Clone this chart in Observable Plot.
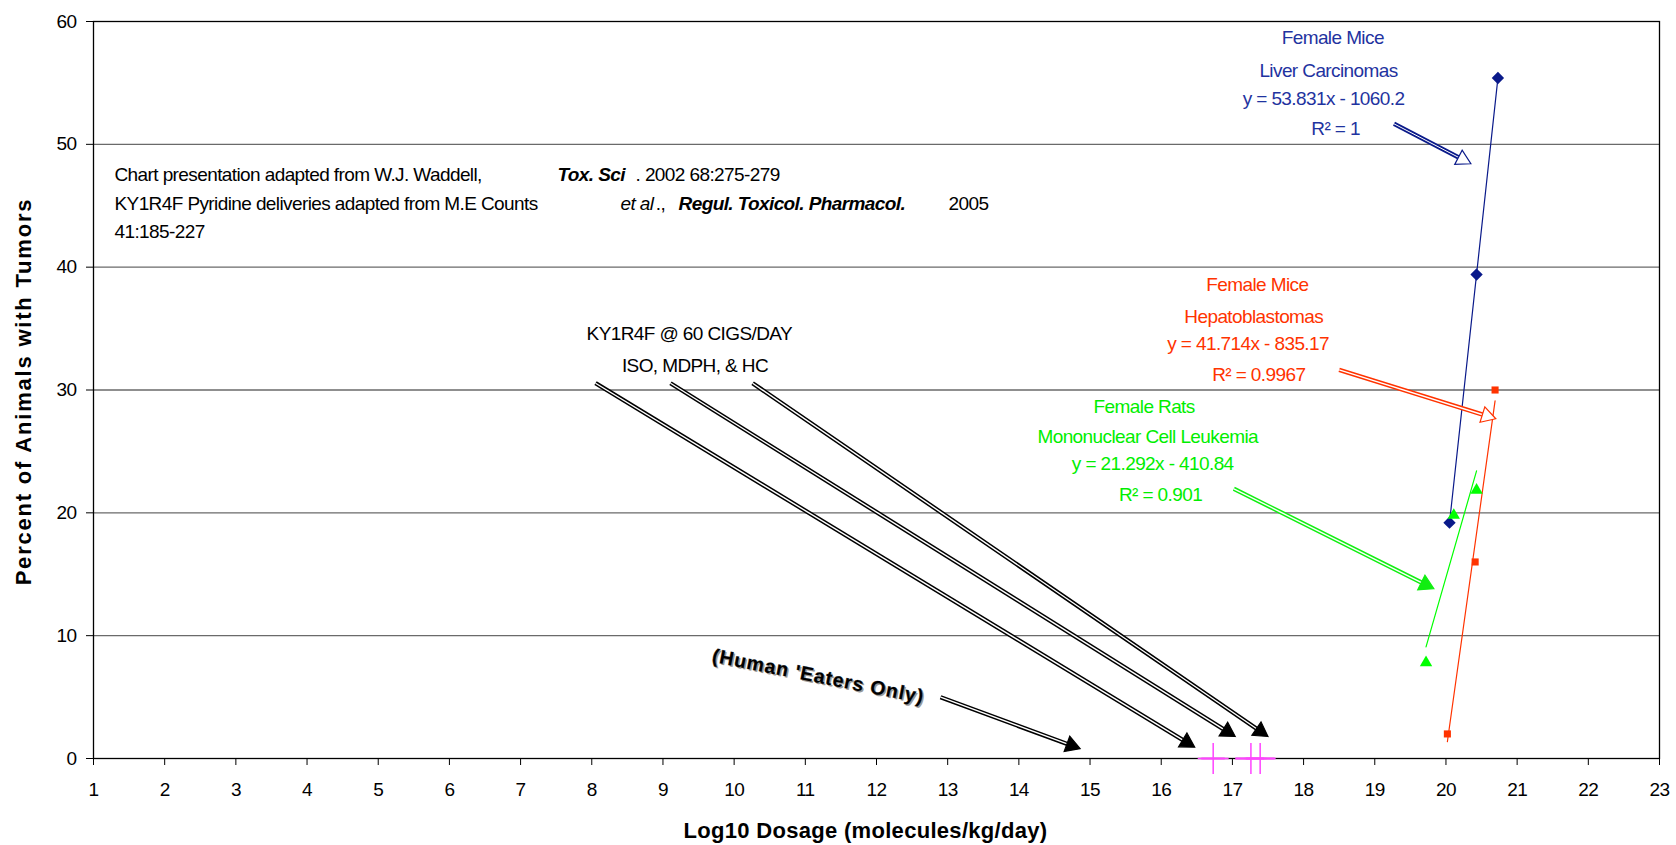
<!DOCTYPE html>
<html><head><meta charset="utf-8">
<script src="https://cdn.jsdelivr.net/npm/d3@7"></script>
<script src="https://cdn.jsdelivr.net/npm/@observablehq/plot@0.6"></script>
<style>
body{margin:0;background:#fff}
#chart svg text{letter-spacing:-0.6px}
</style></head><body><div id="chart"></div>
<script>
// ---- axis ticks ----
const xTicks = [1,2,3,4,5,6,7,8,9,10,11,12,13,14,15,16,17,18,19,20,21,22,23];
const yTicks = [0,10,20,30,40,50,60];

// ---- series (Log10 dosage, percent with tumors) ----
const liverX = [20.05, 20.43, 20.73];   // Female Mice Liver Carcinomas
const liverY = [19.2, 39.4, 55.4];
const hepX   = [20.02, 20.41, 20.69];   // Female Mice Hepatoblastomas
const hepY   = [2.0, 16.0, 30.0];
const leukX  = [19.72, 20.11, 20.43];   // Female Rats Mononuclear Cell Leukemia
const leukY  = [7.8, 19.8, 21.85];
const humanX  = [16.73, 17.26, 17.39];  // KY1R4F smokers (human)
const humanLo = [16.57, 17.05, 17.20];
const humanHi = [16.90, 17.45, 17.60];

// ---- annotation texts (positions in data units) ----
const blueLabels  = ["Female Mice", "Liver Carcinomas", "y = 53.831x - 1060.2", "R² = 1"];
const blueLabX    = [18.41, 18.35, 18.28, 18.45];
const blueLabY    = [58.64, 56.01, 53.71, 51.27];
const redLabels   = ["Female Mice", "Hepatoblastomas", "y = 41.714x - 835.17", "R² = 0.9967"];
const redLabX     = [17.35, 17.30, 17.22, 17.37];
const redLabY     = [38.57, 35.98, 33.76, 31.26];
const greenLabels = ["Female Rats", "Mononuclear Cell Leukemia", "y = 21.292x - 410.84", "R² = 0.901"];
const greenLabX   = [15.76, 15.81, 15.88, 15.99];
const greenLabY   = [28.64, 26.20, 24.02, 21.45];
const kyLabels    = ["KY1R4F @ 60 CIGS/DAY", "ISO, MDPH, & HC"];
const kyLabX      = [9.37, 9.45];
const kyLabY      = [34.58, 32.0];
const humanLabel  = "(Human 'Eaters Only)";
const humanLabX   = 11.18, humanLabY = 6.68;

const citeText  = ["Chart presentation adapted from W.J. Waddell,", "Tox. Sci", ". 2002 68:275-279",
                   "KY1R4F Pyridine deliveries adapted from M.E Counts", "et al", ".,", "Regul. Toxicol. Pharmacol.", "2005",
                   "41:185-227"];
const citeX     = [1.295, 7.519, 8.615, 1.295, 8.404, 8.90, 9.219, 13.012, 1.295];
const citeY     = [47.55, 47.55, 47.55, 45.18, 45.18, 45.18, 45.18, 45.18, 42.9];
const citeStyle = ["n", "bi", "n", "n", "i", "n", "bi", "n", "n"];

// ---- arrows [x1, y1, x2, y2] (tail -> tip) ----
const blackArrows = [[12.90, 4.99, 14.86, 0.80], [8.053, 30.55, 16.47, 0.92], [9.106, 30.55, 17.04, 1.79], [10.26, 30.55, 17.50, 1.79]];
const blueArrow  = [[19.27, 51.67, 20.35, 48.42]];
const redArrow   = [[18.50, 31.64, 20.70, 27.66]];
const greenArrow = [[17.02, 21.96, 19.83, 13.82]];

const xTitle = "Log10 Dosage (molecules/kg/day)";
const yTitle = "Percent of Animals with Tumors";

// ---- layout ----
const W = 1676, H = 845, ML = 93, MR = 17, MT = 21, MB = 87;
const XD = [1, 23], YD = [0, 60];
const kx = (W - ML - MR) / (XD[1] - XD[0]);   // px per x unit
const ky = (H - MT - MB) / (YD[1] - YD[0]);   // px per y unit
const HEAD_R = 6;

const NAVY = "#0a1a8a", BLUE_T = "#1f33a0", RED = "#ff3300", GREEN = "#00ff00", GREEN_T = "#00ee00", MAG = "#ff44ff";
const pts = (xs, ys) => xs.map((x, i) => ({x, y: ys[i]}));
const labs = (ts, xs, ys) => ts.map((t, i) => ({t, x: xs[i], y: ys[i]}));
const liver = pts(liverX, liverY), hep = pts(hepX, hepY), leuk = pts(leukX, leukY);
const human = humanX.map((x, i) => ({x, lo: humanLo[i], hi: humanHi[i]}));
const cite = citeText.map((t, i) => ({t, x: citeX[i], y: citeY[i], s: citeStyle[i]}));

// arrow geometry: shaft ends at the centroid of a rotated triangle whose apex is the tip
function geom(list) {
  return list.map(([x1, y1, x2, y2]) => {
    const dxp = (x2 - x1) * kx, dyp = -(y2 - y1) * ky;
    const len = Math.hypot(dxp, dyp), ux = dxp / len, uy = dyp / len;
    const back = 1.555 * HEAD_R;
    const cx = x2 - ux * back / kx, cy = y2 + uy * back / ky;
    return {x1, y1, cx, cy, rot: Math.atan2(dxp, -dyp) * 180 / Math.PI};
  });
}
function doubleArrow(list, color, inner = 1.4, headFill = color) {
  const g = geom(list);
  return [
    Plot.link(g, {x1: "x1", y1: "y1", x2: "cx", y2: "cy", stroke: color, strokeWidth: 4.4}),
    Plot.link(g, {x1: "x1", y1: "y1", x2: "cx", y2: "cy", stroke: "#fff", strokeWidth: inner}),
    Plot.dot(g, {x: "cx", y: "cy", symbol: "triangle", r: HEAD_R, rotate: "rot", fill: headFill, stroke: color, strokeWidth: 1.2})
  ];
}
function labelMark(ts, xs, ys, color) {
  return Plot.text(labs(ts, xs, ys), {x: "x", y: "y", text: "t", fill: color, fontSize: 19, textAnchor: "middle"});
}
function citeMark(style) {
  return Plot.text(cite.filter(d => d.s === style), {
    x: "x", y: "y", text: "t", textAnchor: "start", fontSize: 19, fill: "#000",
    fontWeight: style.includes("b") ? "bold" : "normal",
    fontStyle: style.includes("i") ? "italic" : "normal"
  });
}

const chart = Plot.plot({
  width: W, height: H,
  marginLeft: ML, marginRight: MR, marginTop: MT, marginBottom: MB,
  x: {domain: XD},
  y: {domain: YD},
  style: {fontFamily: "'Liberation Sans', Arial, sans-serif", fontSize: "19px", color: "#000", background: "#fff", overflow: "visible"},
  marks: [
    Plot.ruleY(yTicks.filter(d => d > YD[0] && d < YD[1]), {stroke: "#6a6a6a", strokeWidth: 1.3}),
    Plot.frame({stroke: "#000", strokeWidth: 1.3}),
    Plot.axisX({ticks: xTicks, tickSize: 7, tickPadding: 17, tickFormat: d => String(d), label: null}),
    Plot.axisY({ticks: yTicks, tickSize: 7, tickPadding: 10, tickFormat: d => String(d), label: null}),
    // human range on the axis
    Plot.ruleY(human, {y: () => 0, x1: "lo", x2: "hi", stroke: MAG, strokeWidth: 2.2, strokeOpacity: 0.85}),
    Plot.dot(human, {x: "x", y: () => 0, symbol: "plus", r: 10, stroke: MAG, strokeWidth: 1.5}),
    // trend lines
    Plot.linearRegressionY(liver, {x: "x", y: "y", stroke: NAVY, strokeWidth: 1.2, ci: 0}),
    Plot.linearRegressionY(hep, {x: "x", y: "y", stroke: RED, strokeWidth: 1.2, ci: 0}),
    Plot.linearRegressionY(leuk, {x: "x", y: "y", stroke: GREEN, strokeWidth: 1.2, ci: 0}),
    // arrows
    ...doubleArrow(blackArrows, "#000"),
    ...doubleArrow(blueArrow, NAVY, 1.0, "#fff"),
    ...doubleArrow(redArrow, RED, 1.4, "#fff"),
    ...doubleArrow(greenArrow, "#11ee11"),
    // points
    Plot.dot(liver, {x: "x", y: "y", symbol: "diamond2", r: 4.6, fill: NAVY, stroke: NAVY}),
    Plot.dot(hep, {x: "x", y: "y", symbol: "square", r: 4, fill: RED}),
    Plot.dot(leuk, {x: "x", y: "y", symbol: "triangle", r: 4.6, fill: GREEN}),
    // labels
    labelMark(blueLabels, blueLabX, blueLabY, BLUE_T),
    labelMark(redLabels, redLabX, redLabY, RED),
    labelMark(greenLabels, greenLabX, greenLabY, GREEN_T),
    labelMark(kyLabels, kyLabX, kyLabY, "#000"),
    citeMark("n"), citeMark("bi"), citeMark("i"),
    Plot.text([humanLabel], {x: () => humanLabX, y: () => humanLabY, text: d => d, rotate: 11.2, dx: 1.5, dy: 1.5,
      textAnchor: "middle", fontSize: 19.5, fontWeight: 900, fill: "#9a9a9a"}),
    Plot.text([humanLabel], {x: () => humanLabX, y: () => humanLabY, text: d => d, rotate: 11.2,
      textAnchor: "middle", fontSize: 19.5, fontWeight: 900, fill: "#000", stroke: "#777", strokeWidth: 0.5}),
    // axis titles
    Plot.text([yTitle], {frameAnchor: "left", text: d => d, rotate: -90, dx: -69.5, dy: 1.5,
      textAnchor: "middle", lineAnchor: "middle", fontSize: 22, fontWeight: "bold"}),
    Plot.text([xTitle], {frameAnchor: "bottom", text: d => d, dx: -11, dy: 72,
      textAnchor: "middle", lineAnchor: "middle", fontSize: 22, fontWeight: "bold"})
  ]
});
// letter spacing for a few texts
const spacing = {[yTitle]: "1.8px", [xTitle]: "0.3px", [humanLabel]: "0.9px"};
chart.querySelectorAll("text").forEach(t => {
  if (spacing[t.textContent] != null) t.style.letterSpacing = spacing[t.textContent];
});
document.getElementById("chart").appendChild(chart);
</script>
</body></html>
